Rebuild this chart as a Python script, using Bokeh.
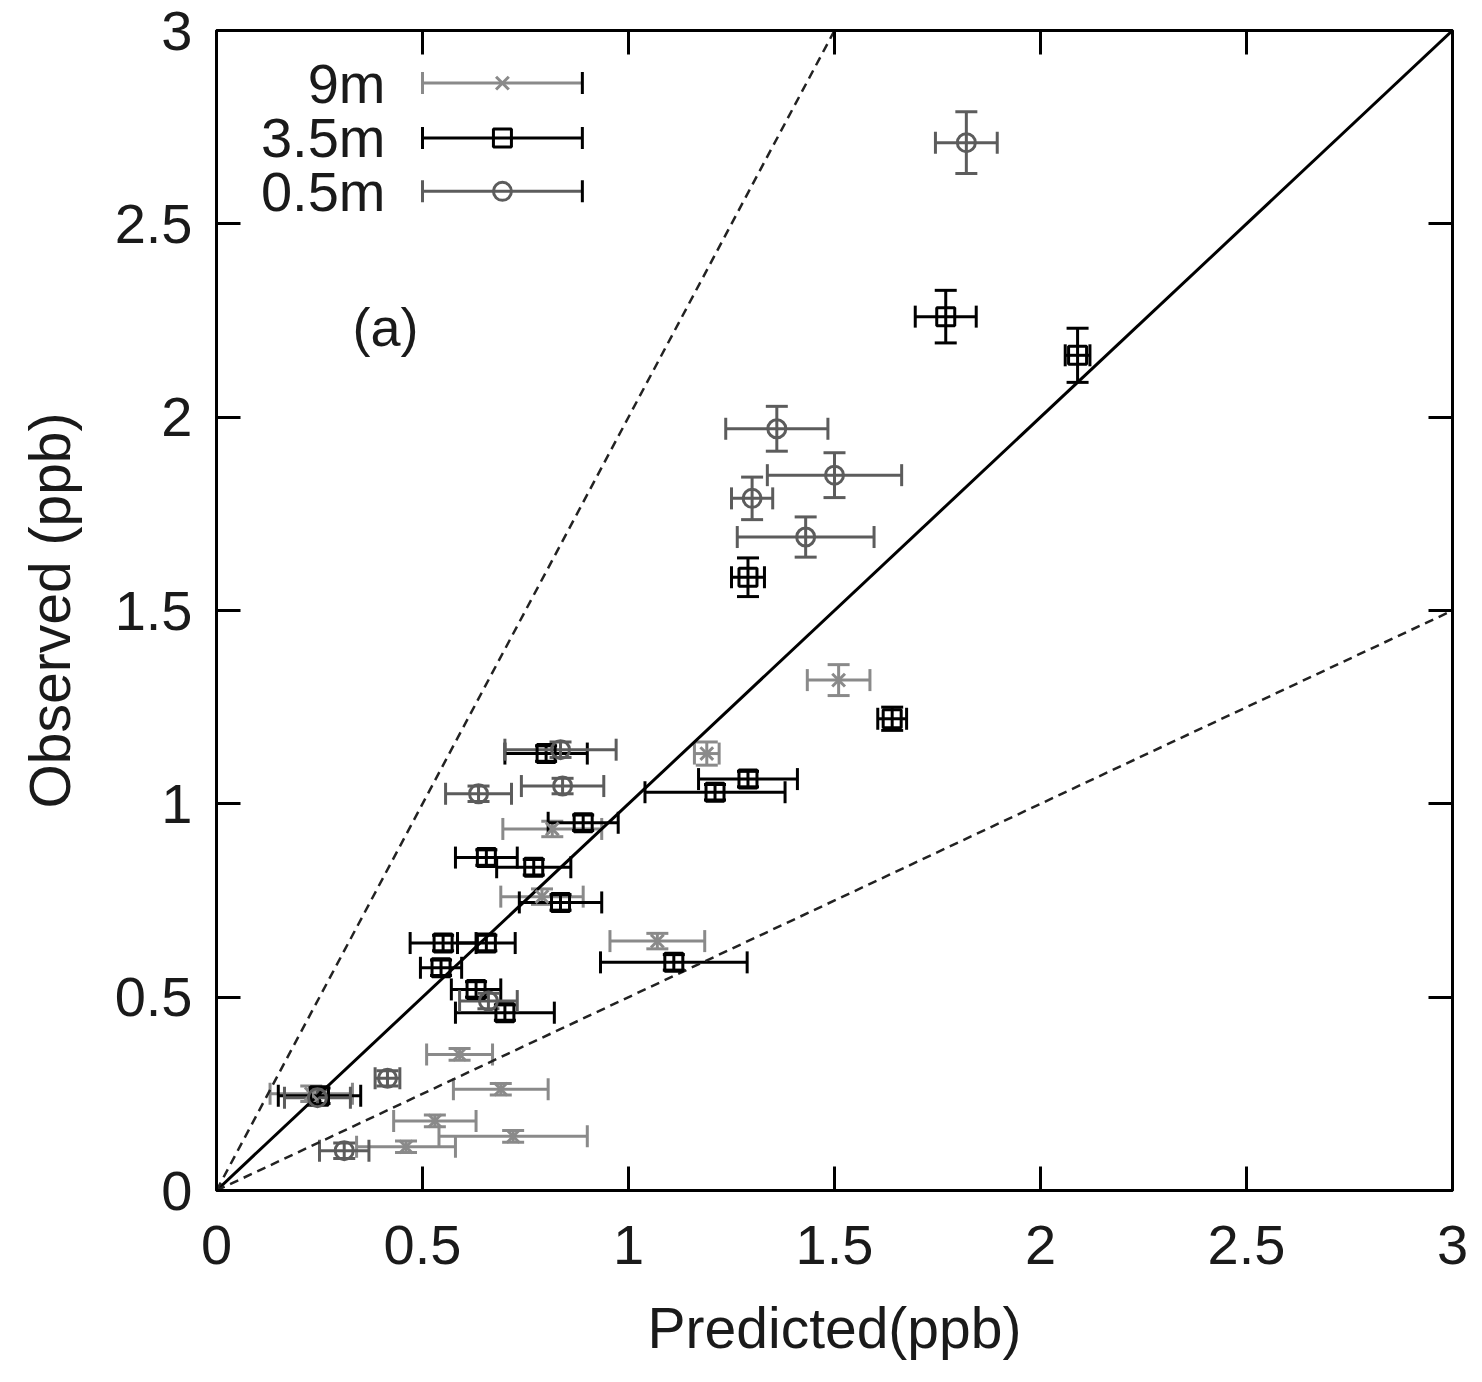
from bokeh.plotting import figure
from bokeh.models import (Range1d, FixedTicker, LinearAxis, Whisker, TeeHead,
                          ColumnDataSource, Label)
from bokeh.embed import file_html
from bokeh.resources import INLINE

# ---------------- data ----------------
tick_values = [0, 0.5, 1, 1.5, 2, 2.5, 3]
tick_labels = ["0", "0.5", "1", "1.5", "2", "2.5", "3"]

series_names = ["9m", "3.5m", "0.5m"]

# 9m series (predicted, observed, x error, y error)
s9_pred = [1.51, 1.19, 1.07, 0.815, 0.79, 0.59, 0.69, 0.53, 0.72, 0.46, 0.23]
s9_obs = [1.32, 1.13, 0.645, 0.935, 0.76, 0.352, 0.262, 0.18, 0.14, 0.113, 0.25]
s9_xerr = [0.076, 0.03, 0.115, 0.12, 0.10, 0.08, 0.115, 0.10, 0.18, 0.12, 0.10]
s9_yerr = [0.04, 0.03, 0.02, 0.02, 0.02, 0.015, 0.015, 0.015, 0.015, 0.015, 0.02]

# 3.5m series
s35_pred = [1.77, 2.09, 1.29, 1.64, 1.29, 1.21, 0.80, 0.89, 0.655, 0.77, 0.835,
            0.55, 0.655, 0.545, 0.63, 0.70, 1.11, 0.25]
s35_obs = [2.26, 2.16, 1.586, 1.22, 1.064, 1.03, 1.13, 0.951, 0.861, 0.836, 0.745,
           0.64, 0.64, 0.576, 0.52, 0.46, 0.59, 0.245]
s35_xerr = [0.074, 0.03, 0.04, 0.035, 0.12, 0.17, 0.10, 0.085, 0.075, 0.09, 0.10,
            0.08, 0.07, 0.05, 0.06, 0.12, 0.178, 0.10]
s35_yerr = [0.068, 0.07, 0.05, 0.03, 0.02, 0.02, 0.02, 0.02, 0.02, 0.02, 0.02,
            0.02, 0.02, 0.02, 0.02, 0.02, 0.02, 0.02]

# 0.5m series
s05_pred = [1.82, 1.36, 1.50, 1.30, 1.43, 0.835, 0.636, 0.84, 0.66, 0.415, 0.31, 0.245]
s05_obs = [2.71, 1.97, 1.85, 1.79, 1.69, 1.14, 1.026, 1.046, 0.49, 0.29, 0.103, 0.24]
s05_xerr = [0.075, 0.124, 0.163, 0.05, 0.166, 0.135, 0.08, 0.10, 0.07, 0.03, 0.06, 0.08]
s05_yerr = [0.08, 0.058, 0.058, 0.055, 0.052, 0.02, 0.02, 0.02, 0.02, 0.02, 0.02, 0.02]

# reference lines: observed = slope * predicted
ref_slopes = [1.0, 2.0, 0.5]

# ---------------- styles ----------------
FONT = "Liberation Sans"
TXT = "#1a1a1a"
colors = {"9m": "#8a8a8a", "3.5m": "#000000", "0.5m": "#5c5c5c"}
markers = {"9m": "x", "3.5m": "square", "0.5m": "circle"}

p = figure(width=1474, height=1362, output_backend="svg", toolbar_location=None,
           x_range=Range1d(0, 3), y_range=Range1d(0, 3),
           min_border_left=216, min_border_right=22, min_border_top=30,
           min_border_bottom=165)
p.background_fill_color = "white"
p.border_fill_color = "white"
p.grid.visible = False
p.outline_line_color = "black"
p.outline_line_width = 3

overrides = {v: l for v, l in zip(tick_values, tick_labels)}
for ax in (p.xaxis[0], p.yaxis[0]):
    ax.ticker = FixedTicker(ticks=tick_values)
    ax.major_label_overrides = overrides
    ax.major_tick_in = 24
    ax.major_tick_out = 0
    ax.minor_tick_line_color = None
    ax.major_tick_line_width = 3
    ax.major_tick_line_color = "black"
    ax.axis_line_color = None
    ax.major_label_text_font = FONT
    ax.major_label_text_font_size = "56px"
    ax.major_label_text_color = TXT
    ax.axis_label_text_font = FONT
    ax.axis_label_text_font_size = "57px"
    ax.axis_label_text_font_style = "normal"
    ax.axis_label_text_color = TXT

p.xaxis.axis_label = "Predicted(ppb)"
p.yaxis.axis_label = "Observed (ppb)"
p.xaxis.major_label_standoff = 35
p.yaxis.major_label_standoff = 24
p.xaxis.axis_label_standoff = 29
p.yaxis.axis_label_standoff = 30

for loc in ("above", "right"):
    ax = LinearAxis(ticker=FixedTicker(ticks=tick_values))
    ax.major_label_text_color = None
    ax.major_label_text_font_size = "10px"
    ax.major_label_standoff = 0
    ax.major_tick_in = 24
    ax.major_tick_out = 0
    ax.minor_tick_line_color = None
    ax.major_tick_line_width = 3
    ax.major_tick_line_color = "black"
    ax.axis_line_color = None
    p.add_layout(ax, loc)

# reference lines
for s in ref_slopes:
    xe = min(3.0, 3.0 / s)
    xs = [0.0, xe]
    ys = [0.0, s * xe]
    if s == 1.0:
        p.line(xs, ys, line_color="black", line_width=3)
    else:
        p.line(xs, ys, line_color="#222222", line_width=2.5, line_dash="9 6")


def draw_series(name, px, py, xe, ye):
    col = colors[name]
    src = ColumnDataSource(dict(
        x=px, y=py,
        xl=[a - b for a, b in zip(px, xe)], xh=[a + b for a, b in zip(px, xe)],
        yl=[a - b for a, b in zip(py, ye)], yh=[a + b for a, b in zip(py, ye)]))
    wx = Whisker(source=src, base="y", lower="xl", upper="xh", dimension="width",
                 line_color=col, line_width=3,
                 lower_head=TeeHead(size=22, line_color=col, line_width=3),
                 upper_head=TeeHead(size=22, line_color=col, line_width=3))
    wy = Whisker(source=src, base="x", lower="yl", upper="yh", dimension="height",
                 line_color=col, line_width=3,
                 lower_head=TeeHead(size=22, line_color=col, line_width=3),
                 upper_head=TeeHead(size=22, line_color=col, line_width=3))
    p.add_layout(wx)
    p.add_layout(wy)
    p.scatter("x", "y", source=src, marker=markers[name], size=18,
              line_color=col, fill_color=None, line_width=3)


draw_series("9m", s9_pred, s9_obs, s9_xerr, s9_yerr)
draw_series("3.5m", s35_pred, s35_obs, s35_xerr, s35_yerr)
draw_series("0.5m", s05_pred, s05_obs, s05_xerr, s05_yerr)

# legend (gnuplot style: label left of sample)
leg_y = [2.864, 2.722, 2.584]
leg_lo, leg_hi, leg_mid, leg_text_x = 0.50, 0.888, 0.694, 0.41
for name, ly in zip(series_names, leg_y):
    col = colors[name]
    src = ColumnDataSource(dict(x=[leg_mid], y=[ly], xl=[leg_lo], xh=[leg_hi]))
    p.add_layout(Whisker(source=src, base="y", lower="xl", upper="xh",
                         dimension="width", line_color=col, line_width=3,
                         lower_head=TeeHead(size=22, line_color=col, line_width=3),
                         upper_head=TeeHead(size=22, line_color="black", line_width=3)))
    p.scatter("x", "y", source=src, marker=markers[name], size=18,
              line_color=col, fill_color=None, line_width=3)
    p.add_layout(Label(x=leg_text_x, y=ly, text=name, text_align="right",
                       text_baseline="middle", text_font=FONT,
                       text_font_size="56px", text_color=TXT))

p.add_layout(Label(x=0.41, y=2.234, text="(a)", text_align="center",
                   text_baseline="middle", text_font=FONT,
                   text_font_size="54px", text_color=TXT))

open("out.html", "w").write(file_html(p, INLINE))
